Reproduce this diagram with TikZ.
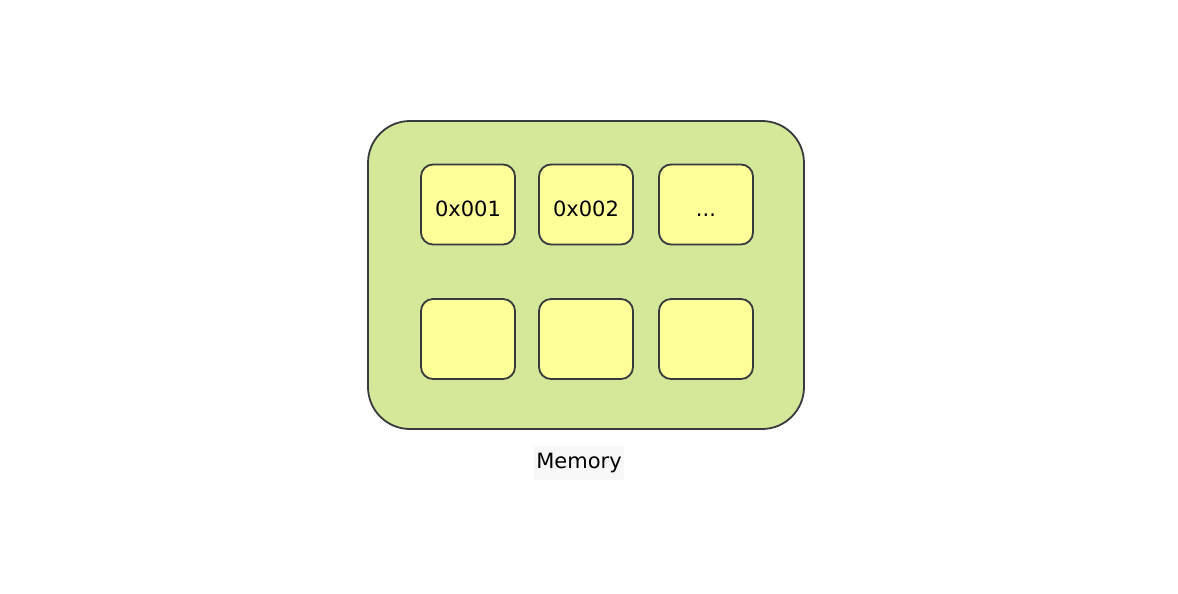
\documentclass[tikz,border=0pt]{standalone}
\usepackage{fontspec}
\setmainfont{DejaVu Sans}
\usetikzlibrary{positioning}

\begin{document}
\begin{tikzpicture}[
    x=1pt, y=-1pt, % pixel grid of the reference, y pointing down
    line join=round,
    memory box/.style={draw=edge_color, line width=1.8pt, fill=mem_color,
        rounded corners=42pt, minimum width=436pt, minimum height=308pt},
    cell box/.style={draw=edge_color, line width=1.8pt, fill=cell_color,
        rounded corners=12pt, minimum width=94pt, minimum height=80pt,
        inner sep=0pt, outer sep=0pt, text height=23pt, text depth=0pt,
        font=\fontsize{21}{25}\selectfont},
    caption box/.style={fill=cap_color, minimum width=90pt, minimum height=34pt,
        inner sep=0pt, font=\fontsize{21}{25}\selectfont}
]

% --- 1. SETTINGS & COLORS ---
\definecolor{mem_color}{RGB}{213,232,153}
\definecolor{cell_color}{RGB}{255,255,153}
\definecolor{edge_color}{RGB}{54,57,61}
\definecolor{cap_color}{RGB}{248,248,248}

% --- 2. CANVAS ---
\useasboundingbox (0,0) rectangle (1178,594);

% --- 3. MEMORY BLOCK ---
\node[memory box] (memory) at (586,275) {};

% --- 4. CELLS ---
% Top row holds the addresses
\node[cell box] (cellA) at (468,204.5) {0x001};
\node[cell box, right=24pt of cellA] (cellB) {0x002};
\node[cell box, right=26pt of cellB] (cellC) {...};
% Bottom row is empty
\node[cell box, below=54.5pt of cellA] (cellD) {};
\node[cell box, below=54.5pt of cellB] (cellE) {};
\node[cell box, below=54.5pt of cellC] (cellF) {};

% --- 5. LABEL ---
\node[caption box] (memlabel) at (579,463) {Memory};

\end{tikzpicture}
\end{document}
